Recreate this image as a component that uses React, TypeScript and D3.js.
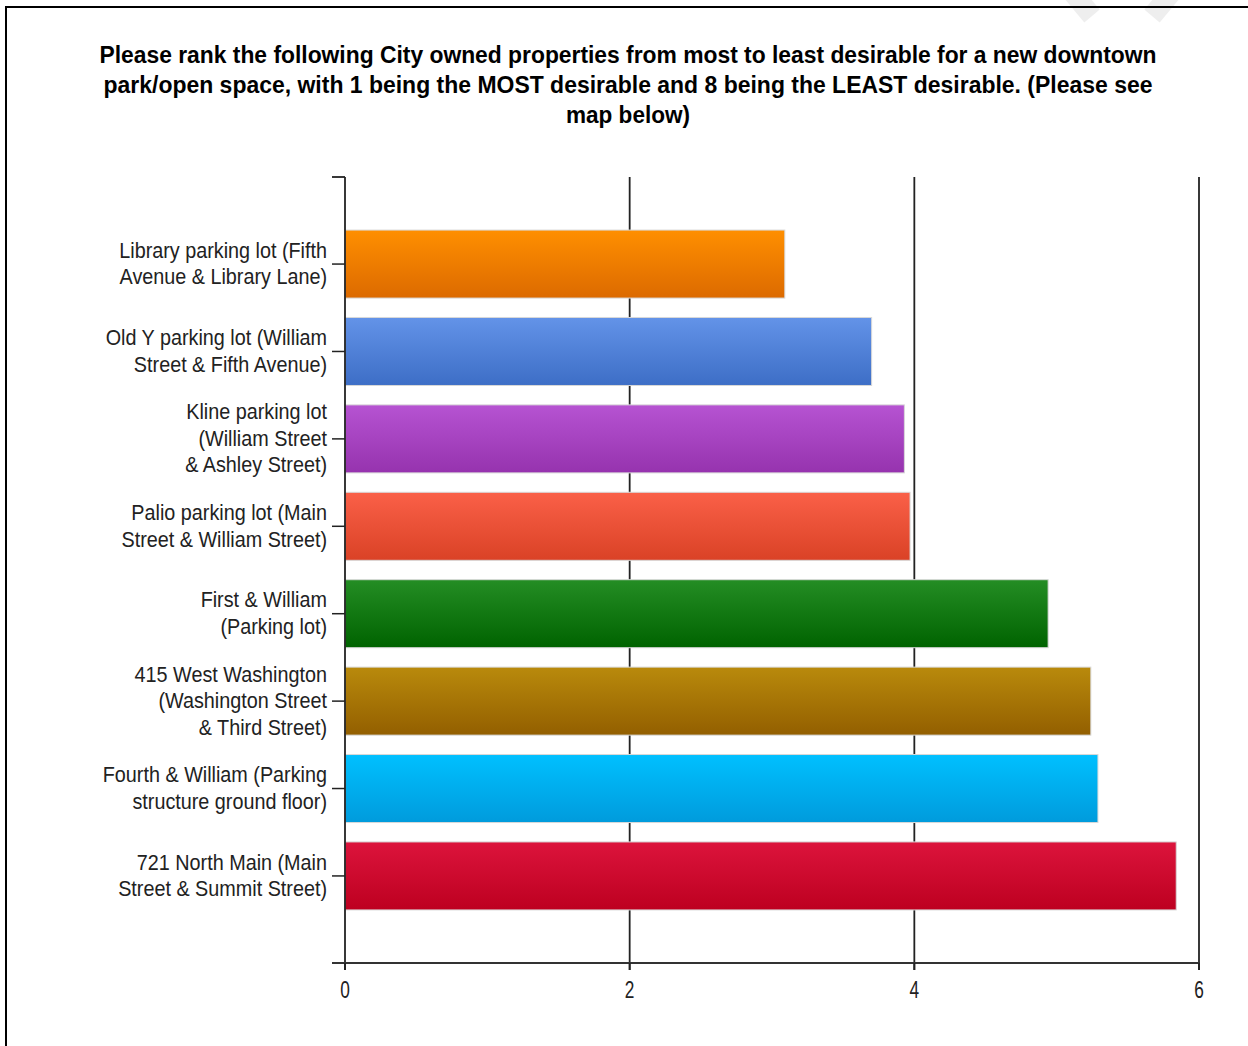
import React from "react";
import * as d3 from "d3";

const categories = [
  ["Library parking lot (Fifth", "Avenue & Library Lane)"],
  ["Old Y parking lot (William", "Street & Fifth Avenue)"],
  ["Kline parking lot", "(William Street", "& Ashley Street)"],
  ["Palio parking lot (Main", "Street & William Street)"],
  ["First & William", "(Parking lot)"],
  ["415 West Washington", "(Washington Street", "& Third Street)"],
  ["Fourth & William (Parking", "structure ground floor)"],
  ["721 North Main (Main", "Street & Summit Street)"],
];
const values = [3.09, 3.7, 3.93, 3.97, 4.94, 5.24, 5.29, 5.84];
const topColors = ["#ff8f00", "#6393e8", "#b653d2", "#fa6048", "#248d24", "#b98a0c", "#00c0ff", "#dc143c"];
const bottomColors = ["#dc6a00", "#3d6ec6", "#9633ae", "#da4226", "#006300", "#935f00", "#009bdc", "#bd0020"];
const xTicks = [0, 2, 4, 6];
const titleLines = [
  "Please rank the following City owned properties from most to least desirable for a new downtown",
  "park/open space, with 1 being the MOST desirable and 8 being the LEAST desirable.  (Please see",
  "map below)",
];
const titleWidths = [1057, 1049, 124];

export default function App() {
  const x = d3.scaleLinear().domain([0, 6]).range([345, 1199]);
  const ids = categories.map((_, i) => String(i));
  const y = d3.scaleBand().domain(ids).range([177, 963]).paddingInner(0.222).paddingOuter(0.607);
  const top = 177, bottom = 963;
  const font = "'Liberation Sans', Arial, sans-serif";
  return (
    <svg width={1248} height={1046} style={{ position: "absolute", left: 0, top: 0, background: "#fff" }}>
      <defs>
        {values.map((_, i) => (
          <linearGradient key={i} id={`g${i}`} x1="0" y1="0" x2="0" y2="1">
            <stop offset="0" stopColor={topColors[i]} />
            <stop offset="1" stopColor={bottomColors[i]} />
          </linearGradient>
        ))}
      </defs>
      {/* watermark strokes */}
      <line x1={1062} y1={-20} x2={1092} y2={16} stroke="#eeeeee" strokeWidth={20} />
      <line x1={1182} y1={-20} x2={1152} y2={16} stroke="#eeeeee" strokeWidth={20} />
      {/* border */}
      <line x1={5} y1={7} x2={1248} y2={7} stroke="#000" strokeWidth={2} />
      <line x1={6} y1={6} x2={6} y2={1046} stroke="#000" strokeWidth={2} />
      {/* title */}
      {titleLines.map((t, i) => (
        <text key={i} x={628} y={63 + i * 30} textAnchor="middle" fontFamily={font} fontWeight="bold"
          fontSize={23} fill="#000" textLength={titleWidths[i]} lengthAdjust="spacingAndGlyphs">{t}</text>
      ))}
      {/* gridlines */}
      {xTicks.filter((t) => t > 0).map((t) => (
        <line key={t} x1={x(t)} x2={x(t)} y1={top} y2={bottom + 7} stroke="#222" strokeWidth={1.8} />
      ))}
      {/* bars */}
      {values.map((v, i) => (
        <rect key={i} x={x(0)} y={y(String(i))} width={x(v) - x(0)} height={y.bandwidth()}
          fill={`url(#g${i})`} stroke="#d8d8d8" strokeWidth={1} />
      ))}
      {/* axes */}
      <line x1={345} x2={345} y1={top} y2={bottom + 7} stroke="#222" strokeWidth={1.8} />
      <line x1={332} x2={345} y1={top} y2={top} stroke="#222" strokeWidth={1.8} />
      <line x1={332} x2={1200} y1={bottom} y2={bottom} stroke="#333" strokeWidth={2} />
      {xTicks.map((t) => (
        <g key={t}>
          <line x1={x(t)} x2={x(t)} y1={bottom} y2={bottom + 7} stroke="#222" strokeWidth={1.8} />
          <text transform={`translate(${x(t)},${998}) scale(0.72,1)`} textAnchor="middle" fontFamily={font}
            fontSize={24} fill="#222">{t}</text>
        </g>
      ))}
      {/* category labels */}
      {categories.map((lines, i) => {
        const cy = (y(String(i)) as number) + y.bandwidth() / 2;
        const lh = 26.5;
        const start = cy - ((lines.length - 1) * lh) / 2 + 7;
        return (
          <g key={i}>
            <line x1={332} x2={345} y1={cy} y2={cy} stroke="#222" strokeWidth={1.5} />
            {lines.map((l, j) => (
              <text key={j} transform={`translate(327,${start + j * lh}) scale(0.9,1)`} textAnchor="end"
                fontFamily={font} fontSize={22} fill="#222">{l}</text>
            ))}
          </g>
        );
      })}
    </svg>
  );
}
